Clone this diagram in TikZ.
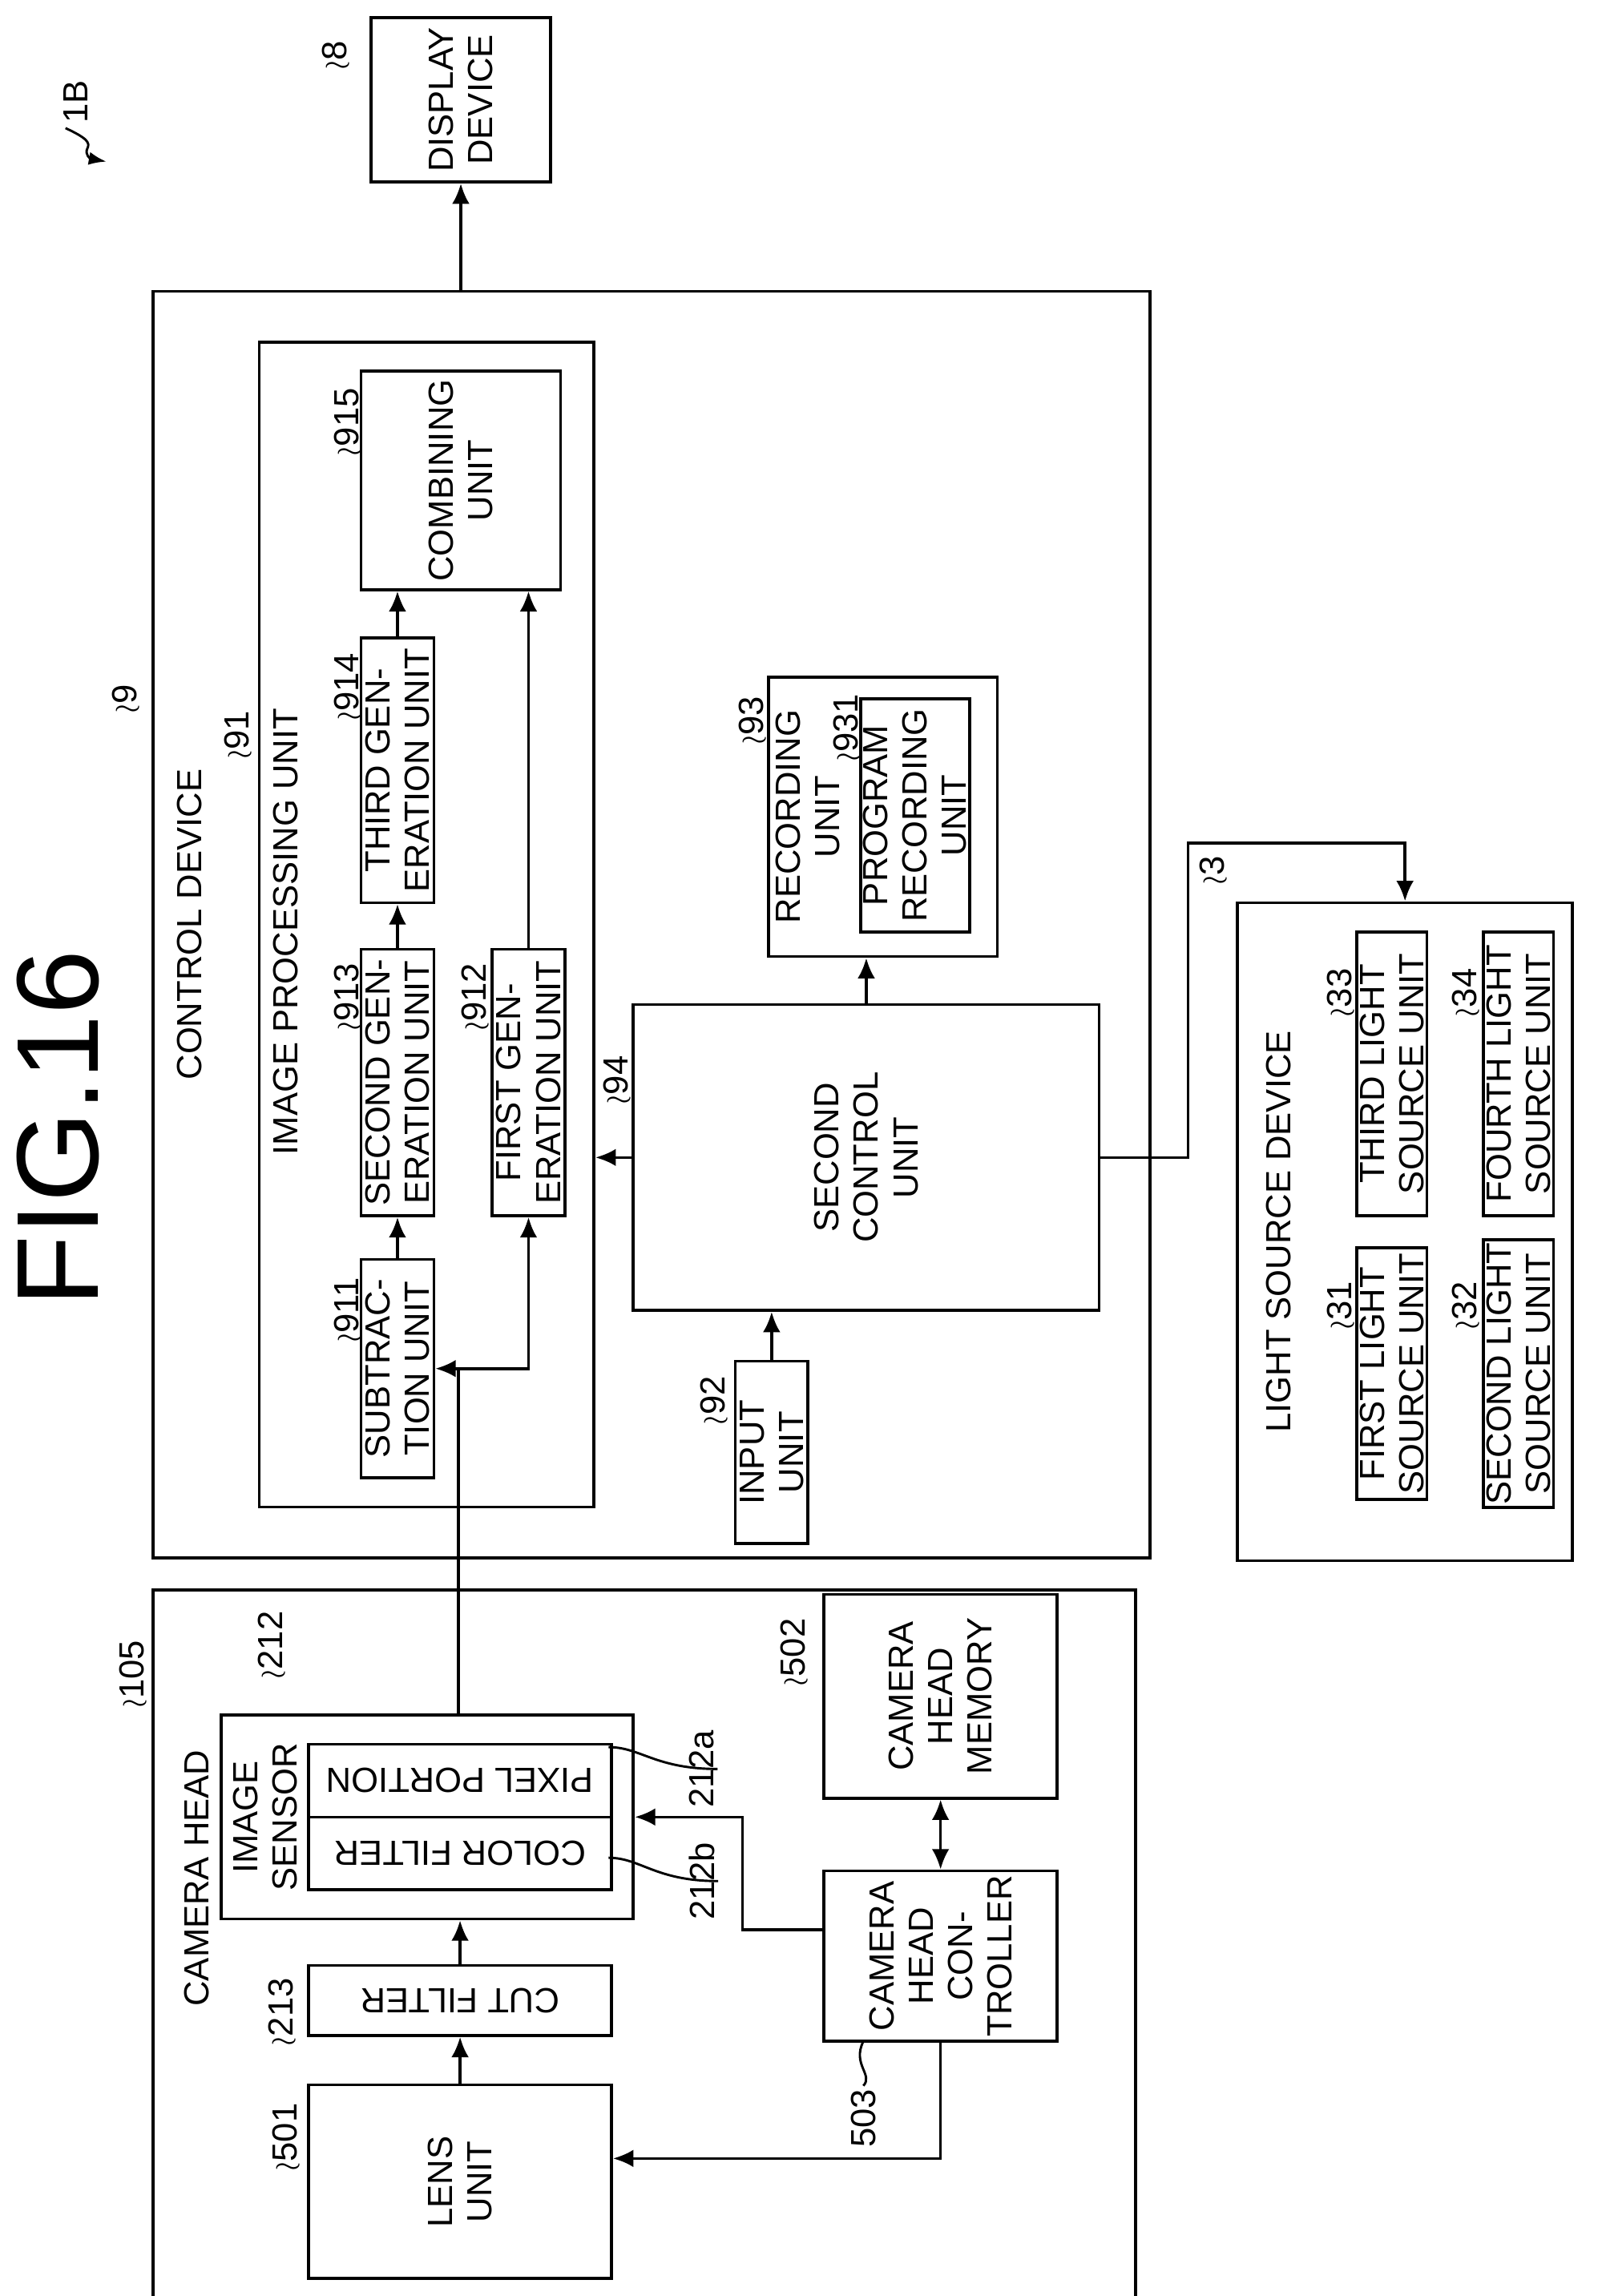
\documentclass[tikz,border=0pt]{standalone}
\usepackage{fontspec}
\setmainfont{Liberation Sans}
\usetikzlibrary{positioning,calc,arrows.meta}

\begin{document}
\begin{tikzpicture}[x=0.5pt,y=-0.5pt,
    font=\fontsize{12}{13.5}\selectfont,
    blk/.style={draw, line width=1pt, align=center, inner sep=1pt, rotate=90},
    flip/.style={draw, line width=1pt, align=center, inner sep=1pt, rotate=180},
    txt/.style={align=center, rotate=90},
    ref/.style={rotate=90, inner sep=1pt},
    conn/.style={line width=1pt, -{Latex[length=7pt,width=6pt]}}]
\useasboundingbox (0,0) rectangle (1100,1577);
% title
\node[txt, font=\fontsize{40}{44}\selectfont] (title) at (40,775) {FIG.16};
\node[ref] (l1b) at (52,70) {1B};
\coordinate (p1b) at (73,111);
\draw[line width=0.8pt, -{Latex[length=6pt]}] (45,88) .. controls (60,95) and (62,98) .. (60,102) .. controls (58,106) and (62,109) .. (p1b);
% display
\node[blk, minimum width=56.5pt, minimum height=61.5pt] (disp) at (316.5,68.5) {DISPLAY\\DEVICE};
\node[ref] (l8) at (232,38) {$\wr$8};
% control device
\node[blk, minimum width=435pt, minimum height=342.5pt] (ctrl) at (447.5,635) {};
\node[txt] (tctrl) at (130,635) {CONTROL DEVICE};
\node[ref] (l9) at (88,480) {$\wr$9};
\node[blk, minimum width=400pt, minimum height=115pt] (ipu) at (293,635) {};
\node[txt] (tipu) at (196,640) {IMAGE PROCESSING UNIT};
\node[ref] (l91) at (165,505) {$\wr$91};
\node[blk, minimum width=75pt, minimum height=25pt] (sub) at (273,940) {SUBTRAC-\\TION UNIT};
\node[blk, minimum width=91.5pt, minimum height=25pt] (sec) at (273,743.5) {SECOND GEN-\\ERATION UNIT};
\node[blk, minimum width=91pt, minimum height=25pt] (thr) at (273,529) {THIRD GEN-\\ERATION UNIT};
\node[blk, minimum width=91.5pt, minimum height=25pt] (fst) at (363,743.5) {FIRST GEN-\\ERATION UNIT};
\node[blk, minimum width=75pt, minimum height=68.5pt] (comb) at (316.5,330) {COMBINING\\UNIT};
\node[ref] at (240,290) {$\wr$915};
\node[ref] at (240,472) {$\wr$914};
\node[ref] at (240,685) {$\wr$913};
\node[ref] at (240,900) {$\wr$911};
\node[ref] at (328,685) {$\wr$912};
\node[blk, minimum width=105pt, minimum height=160pt] (scu) at (595,795) {SECOND\\CONTROL\\UNIT};
\node[ref] at (425,742) {$\wr$94};
\node[blk, minimum width=62.5pt, minimum height=25pt] (inp) at (530,997.5) {INPUT\\UNIT};
\node[ref] at (492,962) {$\wr$92};
\node[blk, minimum width=96pt, minimum height=78.5pt] (rec) at (606.5,561) {};
\node[txt] (trec) at (555,561) {RECORDING\\UNIT};
\node[blk, minimum width=80pt, minimum height=36.5pt] (prg) at (628.5,560) {PROGRAM\\RECORDING\\UNIT};
\node[ref] at (518,495) {$\wr$93};
\node[ref] at (583,500) {$\wr$931};
% light source device
\node[blk, minimum width=226pt, minimum height=115pt] (lsd) at (965,846) {};
\node[txt] (tlsd) at (878,846) {LIGHT SOURCE DEVICE};
\node[ref] at (835,598) {$\wr$3};
\node[blk, minimum width=86.5pt, minimum height=24pt] (ls31) at (956,943.5) {FIRST LIGHT\\SOURCE UNIT};
\node[blk, minimum width=97.5pt, minimum height=24pt] (ls33) at (956,737.5) {THIRD LIGHT\\SOURCE UNIT};
\node[blk, minimum width=86.5pt, minimum height=24pt] (ls32) at (1043,943.5) {SECOND LIGHT\\SOURCE UNIT};
\node[blk, minimum width=97.5pt, minimum height=24pt] (ls34) at (1043,737.5) {FOURTH LIGHT\\SOURCE UNIT};
\node[ref] at (922,682) {$\wr$33};
\node[ref] at (1008,682) {$\wr$34};
\node[ref] at (922,897) {$\wr$31};
\node[ref] at (1008,897) {$\wr$32};
% camera head
\node[blk, minimum width=245.5pt, minimum height=337.5pt] (cam) at (442.5,1337.5) {};
\node[txt] (tcam) at (135,1290) {CAMERA HEAD};
\node[ref] at (93,1150) {$\wr$105};
\node[blk, minimum width=70pt, minimum height=141.5pt] (ims) at (293.5,1248) {};
\node[txt] (tims) at (182,1248) {IMAGE\\SENSOR};
\node[ref] at (188,1130) {$\wr$212};
\node[flip, minimum width=104pt, minimum height=25pt] (pix) at (316,1223) {PIXEL PORTION};
\node[flip, minimum width=104pt, minimum height=25pt] (col) at (316,1273) {COLOR FILTER};
\node[ref] (l212a) at (482,1215) {212a};
\node[ref] (l212b) at (482,1292) {212b};
\draw[line width=0.8pt] (418,1200) .. controls (440,1200) and (450,1215) .. (l212a.south);
\draw[line width=0.8pt] (418,1276) .. controls (440,1276) and (450,1292) .. (l212b.south);
\node[flip, minimum width=104pt, minimum height=24pt] (cut) at (316,1374) {CUT FILTER};
\node[ref] at (195,1382) {$\wr$213};
\node[blk, minimum width=66.5pt, minimum height=104pt] (lens) at (316,1498.5) {LENS\\UNIT};
\node[ref] at (198,1468) {$\wr$501};
\node[blk, minimum width=70pt, minimum height=80pt] (mem) at (646,1165) {CAMERA\\HEAD\\MEMORY};
\node[ref] at (547,1135) {$\wr$502};
\node[blk, minimum width=58.5pt, minimum height=80pt] (ctl) at (646,1343.5) {CAMERA\\HEAD\\CON-\\TROLLER};
\node[ref] (l503) at (593,1455) {503};
\draw[line width=0.8pt] (l503.east) .. controls (600,1425) and (585,1418) .. (593,1402);
% connectors
\draw[conn] (disp |- ctrl.east) -- (disp.west);
\draw[conn] (sub.east) -- (sec.west);
\draw[conn] (sec.east) -- (thr.west);
\draw[conn] (thr.east) -- (thr.east |- comb.west);
\draw[conn] (fst.east) -- (fst.east |- comb.west);
\coordinate (tap) at (315,940);
\draw[conn] (tap |- ims.east) -- (tap) -- (sub.south);
\draw[conn] (tap) -| (fst.west);
\draw[conn] (scu.north) -- (scu.north -| ipu.south);
\draw[conn] (inp.east) -- (inp.east |- scu.west);
\draw[conn] (scu.east) -- (scu.east |- rec.west);
\draw[conn] (scu.south) -- ++(60,0) |- ($(lsd.east)+(0,-40)$) -- (lsd.east);
\draw[conn] (lens.east) -- (cut.north);
\draw[conn] (cut.south) -- (cut.south |- ims.west);
\draw[conn, {Latex[length=7pt,width=6pt]}-{Latex[length=7pt,width=6pt]}] (ctl.east) -- (mem.west);
\draw[conn] ($(ctl.north)+(0,-18)$) -- ++(-55,0) |- (ims.south);
\draw[conn] (ctl.west) |- ($(lens.south)+(0,-16)$);
\end{tikzpicture}
\end{document}
